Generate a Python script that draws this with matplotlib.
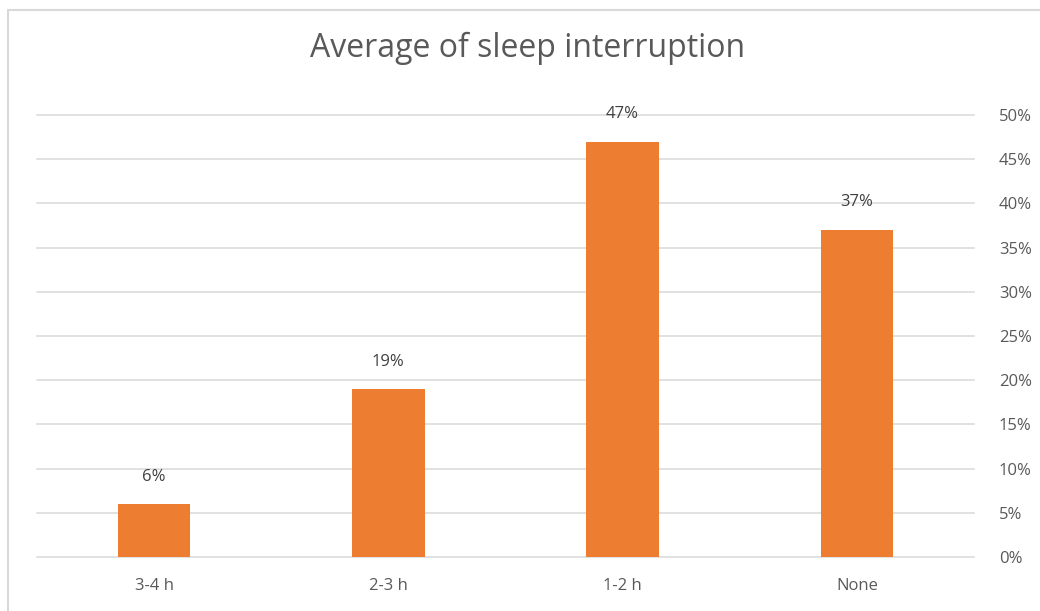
import matplotlib.pyplot as plt
from matplotlib.patches import Rectangle

categories = ['3-4 h', '2-3 h', '1-2 h', 'None']
values = [0.06, 0.19, 0.47, 0.37]
y_ticks = [0, 0.05, 0.10, 0.15, 0.20, 0.25, 0.30, 0.35, 0.40, 0.45, 0.50]

plt.rcParams['font.family'] = ['Open Sans', 'DejaVu Sans']

fig = plt.figure(figsize=(10.4, 6.11), dpi=100)
ax = fig.add_axes([37 / 1040, 1 - 557 / 611, 937 / 1040, 442 / 611])

x = range(len(categories))
bars = ax.bar(x, values, width=0.31, color='#ED7D31', zorder=3)

for i, v in enumerate(values):
    ax.text(i, v + 0.022, '{:.0f}%'.format(v * 100), ha='center', va='bottom',
            fontsize=12, color='#404040')

ax.set_xlim(-0.5, len(categories) - 0.5)
ax.set_ylim(0, 0.5)
ax.set_xticks(list(x))
ax.set_xticklabels(categories, fontsize=12, color='#595959')
ax.set_yticks(y_ticks)
ax.set_yticklabels(['{:.0f}%'.format(t * 100) for t in y_ticks], fontsize=12, color='#595959')
ax.yaxis.tick_right()
ax.tick_params(axis='both', length=0)
ax.tick_params(axis='x', pad=15)
ax.tick_params(axis='y', pad=18)
for t in y_ticks:
    ax.axhline(t, color='#D9D9D9', linewidth=1.1, zorder=0, clip_on=False)
for s in ax.spines.values():
    s.set_visible(False)

# chart area border
fig.patches.append(Rectangle((8 / 1040, -0.1), 1.2, 1 - 10 / 611 + 0.1,
                             transform=fig.transFigure, fill=False,
                             edgecolor='#D9D9D9', linewidth=1.5))

fig.text(528 / 1040, 1 - 48 / 611, 'Average of sleep interruption', ha='center', va='center',
         fontsize=23, color='#595959')

fig.savefig('out.png', dpi=100)
